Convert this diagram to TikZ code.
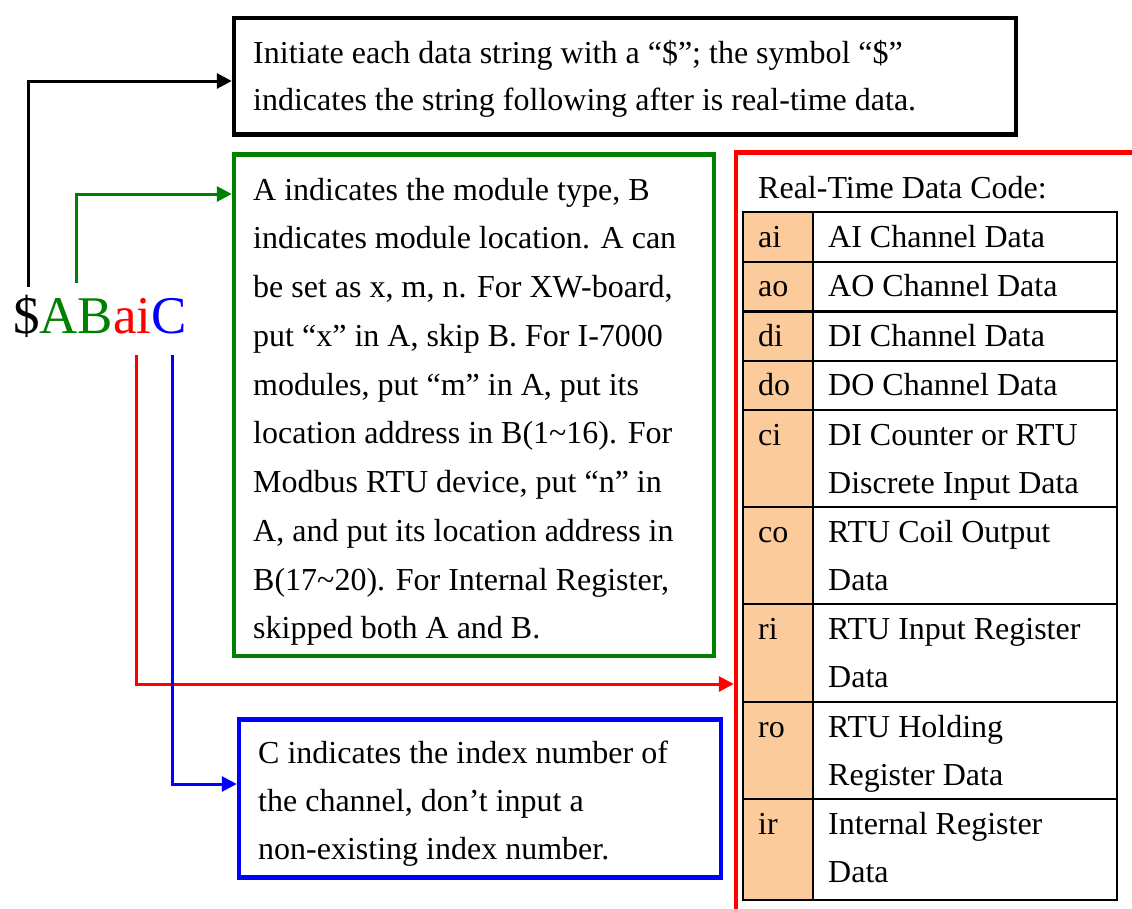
\documentclass[tikz,border=0pt]{standalone}
\usepackage{fontspec}
\setmainfont{Liberation Serif}
\usetikzlibrary{arrows.meta}
\definecolor{mygreen}{RGB}{0,128,0}
\definecolor{myred}{RGB}{255,0,0}
\definecolor{myblue}{RGB}{0,0,255}
\definecolor{peach}{RGB}{251,203,155}
\newcommand{\st}{\rule{0pt}{26pt}}
\begin{document}
\begin{tikzpicture}[x=1pt,y=-1pt,
  frame/.style={draw, line width=4.5pt, inner sep=0pt},
  txt/.style={anchor=north west, inner sep=0pt, align=left, font=\fontsize{32}{48.75}\selectfont},
  ttxt/.style={anchor=north west, inner sep=0pt, align=left, font=\fontsize{32}{48}\selectfont},
  arr/.style={line width=3pt, -{Triangle[length=15pt,width=15pt]}},
  cell/.style={draw, line width=2.2pt, inner sep=0pt, outer sep=0pt, anchor=north west},
  code/.style={cell, fill=peach, minimum width=70pt},
  desc/.style={cell, minimum width=304pt}
]
\useasboundingbox (0,0) rectangle (1132,908);

% frames
\node[frame, minimum width=782pt, minimum height=116.5pt] (blackbox) at (625,76.25) {};
\node[frame, draw=mygreen, minimum width=480pt, minimum height=501.5pt] (greenbox) at (474,405.25) {};
\node[frame, draw=myblue, minimum width=482pt, minimum height=158pt] (bluebox) at (480,798.5) {};
\node[frame, draw=myred, minimum width=464pt, minimum height=807.5pt] (redbox) at (968,556.25) {};

% texts in frames
\node[txt, font=\fontsize{32}{47}\selectfont] (blacktext) at (253,37) {\st Initiate each data string with a “\$”; the symbol “\$”\\indicates the string following after is real-time data.};
\node[txt] (greentext) at (253,174) {\st A indicates the module type, B\\
indicates module location. A can\\
be set as x, m, n. For XW-board,\\
put “x” in A, skip B. For I-7000\\
modules, put “m” in A, put its\\
location address in B(1\textasciitilde 16). For\\
Modbus RTU device, put “n” in\\
A, and put its location address in\\
B(17\textasciitilde 20). For Internal Register,\\
skipped both A and B.};
\node[ttxt] (bluetext) at (258,737) {\st C indicates the index number of\\the channel, don’t input a\\non-existing index number.};
\node[txt] (tabletitle) at (758,172) {\st Real-Time Data Code:};

% table
\node[code, minimum height=50pt] (k1) at (743,212) {};
\node[desc, minimum height=50pt] (d1) at (813,212) {};
\node[code, minimum height=49.5pt] (k2) at (743,262) {};
\node[desc, minimum height=49.5pt] (d2) at (813,262) {};
\node[code, minimum height=49.5pt] (k3) at (743,311.5) {};
\node[desc, minimum height=49.5pt] (d3) at (813,311.5) {};
\node[code, minimum height=49pt] (k4) at (743,361) {};
\node[desc, minimum height=49pt] (d4) at (813,361) {};
\node[code, minimum height=97pt] (k5) at (743,410) {};
\node[desc, minimum height=97pt] (d5) at (813,410) {};
\node[code, minimum height=97pt] (k6) at (743,507) {};
\node[desc, minimum height=97pt] (d6) at (813,507) {};
\node[code, minimum height=98pt] (k7) at (743,604) {};
\node[desc, minimum height=98pt] (d7) at (813,604) {};
\node[code, minimum height=97pt] (k8) at (743,702) {};
\node[desc, minimum height=97pt] (d8) at (813,702) {};
\node[code, minimum height=101pt] (k9) at (743,799) {};
\node[desc, minimum height=101pt] (d9) at (813,799) {};

\node[ttxt] (kt1) at (758,221) {\st ai};
\node[ttxt] (dt1) at (828,221) {\st AI Channel Data};
\node[ttxt] (kt2) at (758,270.5) {\st ao};
\node[ttxt] (dt2) at (828,270.5) {\st AO Channel Data};
\node[ttxt] (kt3) at (758,320) {\st di};
\node[ttxt] (dt3) at (828,320) {\st DI Channel Data};
\node[ttxt] (kt4) at (758,369.5) {\st do};
\node[ttxt] (dt4) at (828,369.5) {\st DO Channel Data};
\node[ttxt] (kt5) at (758,419) {\st ci};
\node[ttxt] (dt5) at (828,419) {\st DI Counter or RTU\\Discrete Input Data};
\node[ttxt] (kt6) at (758,516) {\st co};
\node[ttxt] (dt6) at (828,516) {\st RTU Coil Output\\Data};
\node[ttxt] (kt7) at (758,613) {\st ri};
\node[ttxt] (dt7) at (828,613) {\st RTU Input Register\\Data};
\node[ttxt] (kt8) at (758,711) {\st ro};
\node[ttxt] (dt8) at (828,711) {\st RTU Holding\\Register Data};
\node[ttxt] (kt9) at (758,808) {\st ir};
\node[ttxt] (dt9) at (828,808) {\st Internal Register\\Data};

% the code string
\node[anchor=base west, inner sep=0pt, font=\fontsize{53}{60}\selectfont] (codestr) at (13,333)
  {\$\textcolor{mygreen}{AB}\textcolor{myred}{ai}\textcolor{myblue}{C}};

% connectors
\coordinate (sD) at (28,287);
\coordinate (sA) at (76,283);
\coordinate (sai) at (136,355);
\coordinate (sC) at (172,355);
\draw[arr] (sD) |- ([yshift=-4.75pt]blackbox.west);
\draw[arr, mygreen] (sA) |- ([yshift=211.25pt]greenbox.west);
\draw[arr, myred] (sai) |- ([yshift=-127.75pt]redbox.west);
\draw[arr, myblue] (sC) |- ([yshift=14.5pt]bluebox.west);
\end{tikzpicture}
\end{document}
